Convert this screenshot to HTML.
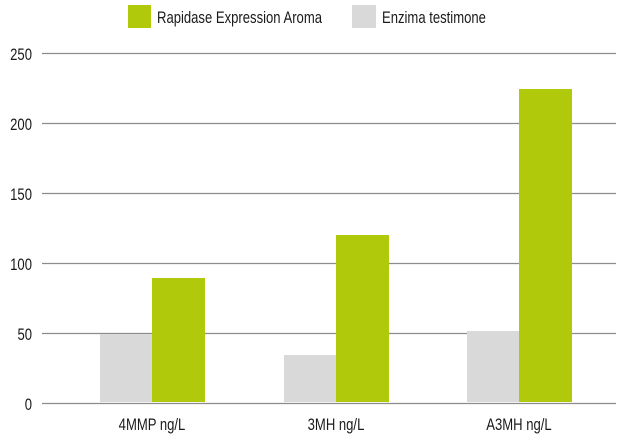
<!DOCTYPE html>
<html><head><meta charset="utf-8"><style>
html,body{margin:0;padding:0;background:#fff;}
svg text{font-family:"Liberation Sans Narrow","Liberation Sans",sans-serif;fill:#1a1a1a;}
</style></head><body>
<svg width="628" height="442" xmlns="http://www.w3.org/2000/svg">
<rect x="128" y="5" width="23" height="23" fill="#b0ca0b"/>
<text x="157" y="23" font-size="17" transform="translate(157 0) scale(0.77 1) translate(-157 0)">Rapidase Expression Aroma</text>
<rect x="352" y="5" width="24" height="23" fill="#d9d9d9"/>
<text x="382" y="23" font-size="17" transform="translate(382 0) scale(0.77 1) translate(-382 0)">Enzima testimone</text>
<g stroke="#8c8c8c" stroke-width="1.3">
<line x1="42" x2="616" y1="53.5" y2="53.5"/>
<line x1="42" x2="616" y1="123.5" y2="123.5"/>
<line x1="42" x2="616" y1="193.5" y2="193.5"/>
<line x1="42" x2="616" y1="263.5" y2="263.5"/>
<line x1="42" x2="616" y1="333.5" y2="333.5"/>
<line x1="42" x2="616" y1="403.5" y2="403.5"/>
</g>
<g font-size="17" text-anchor="end">
<text x="32" y="60" transform="translate(32 0) scale(0.77 1) translate(-32 0)">250</text>
<text x="32" y="130" transform="translate(32 0) scale(0.77 1) translate(-32 0)">200</text>
<text x="32" y="200" transform="translate(32 0) scale(0.77 1) translate(-32 0)">150</text>
<text x="32" y="270" transform="translate(32 0) scale(0.77 1) translate(-32 0)">100</text>
<text x="32" y="340" transform="translate(32 0) scale(0.77 1) translate(-32 0)">50</text>
<text x="32" y="410" transform="translate(32 0) scale(0.77 1) translate(-32 0)">0</text>
</g>
<rect x="100" y="334" width="52" height="68" fill="#d9d9d9"/>
<rect x="152" y="278" width="53" height="124" fill="#b0ca0b"/>
<rect x="284" y="355" width="52" height="47" fill="#d9d9d9"/>
<rect x="336" y="235" width="53" height="167" fill="#b0ca0b"/>
<rect x="467" y="331" width="52" height="71" fill="#d9d9d9"/>
<rect x="519" y="89" width="53" height="313" fill="#b0ca0b"/>
<g font-size="17" text-anchor="middle">
<text x="152" y="430" transform="translate(152 0) scale(0.77 1) translate(-152 0)">4MMP ng/L</text>
<text x="336" y="430" transform="translate(336 0) scale(0.77 1) translate(-336 0)">3MH ng/L</text>
<text x="519" y="430" transform="translate(519 0) scale(0.77 1) translate(-519 0)">A3MH ng/L</text>
</g>
</svg>
</body></html>
